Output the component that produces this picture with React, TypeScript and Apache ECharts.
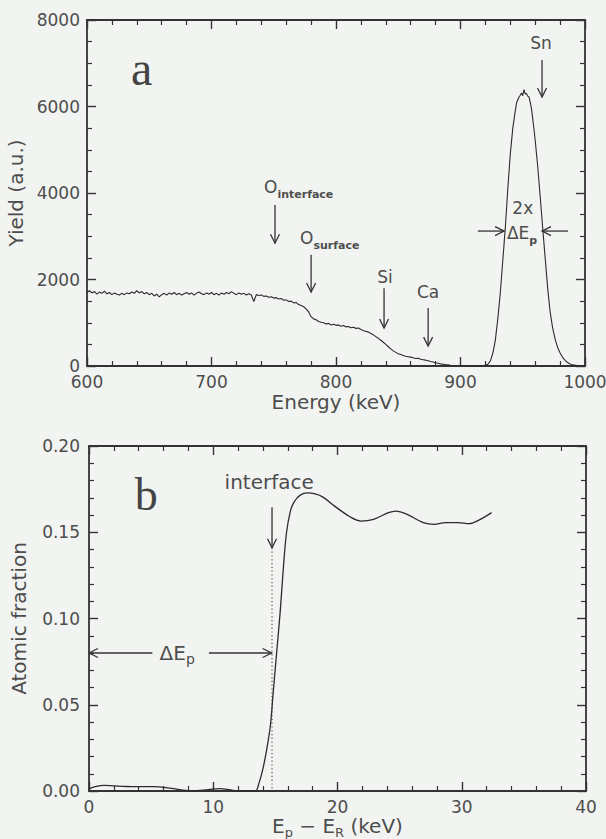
import React, { useEffect, useRef } from "react";
import * as echarts from "echarts";

// ---------- Panel a: RBS spectrum (energy keV, yield a.u.) ----------
const spectrum: [number, number][] = [
  [600, 1700], [602, 1740], [604, 1690], [606, 1720], [608, 1660], [610, 1710], [612, 1680], [614, 1730],
  [616, 1670], [618, 1700], [620, 1650], [622, 1690], [624, 1660], [626, 1640], [628, 1680], [630, 1650],
  [632, 1690], [634, 1670], [636, 1710], [638, 1680], [640, 1740], [642, 1690], [644, 1720], [646, 1670],
  [648, 1700], [650, 1650], [652, 1680], [654, 1620], [656, 1660], [658, 1600], [660, 1650], [662, 1680],
  [664, 1640], [666, 1690], [668, 1660], [670, 1700], [672, 1650], [674, 1680], [676, 1640], [678, 1670],
  [680, 1700], [682, 1660], [684, 1690], [686, 1640], [688, 1680], [690, 1710], [692, 1670], [694, 1650],
  [696, 1690], [698, 1660], [700, 1700], [702, 1650], [704, 1680], [706, 1640], [708, 1690], [710, 1660],
  [712, 1700], [714, 1670], [716, 1720], [718, 1680], [720, 1650], [722, 1690], [724, 1660], [726, 1680],
  [728, 1640], [730, 1670], [732, 1640], [734, 1490], [736, 1650], [738, 1630], [740, 1640], [742, 1610],
  [744, 1620], [746, 1590], [748, 1600], [750, 1570], [752, 1580], [754, 1550], [756, 1560], [758, 1520],
  [760, 1530], [762, 1490], [764, 1500], [766, 1460], [768, 1470], [770, 1420], [772, 1400], [774, 1370],
  [776, 1320], [778, 1250], [780, 1140], [782, 1090], [784, 1070], [786, 1030], [788, 1010], [790, 1000],
  [792, 970], [794, 985], [796, 950], [798, 965], [800, 940], [802, 950], [804, 920], [806, 935],
  [808, 905], [810, 915], [812, 885], [814, 895], [816, 870], [818, 880], [820, 845], [822, 820],
  [824, 800], [826, 785], [828, 750], [830, 720], [832, 680], [834, 640], [836, 595], [838, 550],
  [840, 500], [842, 445], [844, 395], [846, 350], [848, 315], [850, 285], [852, 265], [854, 245],
  [856, 225], [858, 215], [860, 205], [862, 190], [864, 175], [866, 180], [868, 155], [870, 145],
  [872, 135], [874, 120], [876, 105], [878, 92], [880, 75], [882, 62], [884, 50], [886, 42],
  [888, 32], [890, 26], [892, 18], [894, 12], [896, 8], [898, 6], [900, 4], [904, 3],
  [908, 2], [912, 3], [916, 6], [920, 15], [922, 40], [924, 120], [926, 300], [928, 600],
  [930, 1100], [932, 1700], [934, 2450], [936, 3200], [938, 4100], [940, 4900], [942, 5500], [944, 5900],
  [945, 6080], [946, 6150], [947, 6220], [948, 6260], [949, 6310], [950, 6250], [951, 6390], [952, 6290],
  [953, 6300], [954, 6240], [955, 6220], [956, 6100], [957, 5950], [958, 5720], [959, 5480], [960, 5220],
  [962, 4620], [964, 3920], [966, 3200], [968, 2500], [970, 1800], [972, 1250], [974, 880], [976, 620],
  [978, 430], [980, 300], [982, 200], [984, 130], [986, 80], [988, 45], [990, 25], [994, 8], [1000, 2],
];

// ---------- Panel b: depth profile (Ep - ER keV, atomic fraction) ----------
const profile: [number, number][] = [
  [0, 0.0012], [0.5, 0.0025], [1.2, 0.0033], [2, 0.003], [3, 0.0026], [4, 0.0025], [5.2, 0.0025],
  [6.2, 0.002], [7.4, 0.0007], [8.3, 0.0001], [9.6, 0.0008], [10.5, 0.0014], [11.4, 0.0006], [12, 0],
  [13, 0], [13.4, 0], [13.7, 0.005], [14.0, 0.013], [14.3, 0.024], [14.6, 0.038], [14.8, 0.055],
  [15.1, 0.08], [15.4, 0.105], [15.65, 0.13], [15.9, 0.15], [16.2, 0.162], [16.5, 0.1675], [17.0, 0.1715],
  [17.6, 0.1728], [18.2, 0.1722], [18.8, 0.1705], [19.8, 0.165], [21.0, 0.159], [21.9, 0.1565],
  [22.9, 0.1575], [24.1, 0.1614], [24.7, 0.1623], [25.6, 0.1604], [26.9, 0.1556], [27.8, 0.1546],
  [28.7, 0.1556], [29.7, 0.1556], [30.6, 0.155], [31.5, 0.1575], [32.4, 0.1614],
];

// ---------- Annotations (data coordinates: [x1, y1, x2(tip), y2(tip)]) ----------
const panelAArrows = [
  [751, 3720, 751, 2840],     // O interface
  [780, 2570, 780, 1710],     // O surface
  [838.6, 1800, 838.6, 880],  // Si
  [874, 1340, 874, 460],      // Ca
  [965.5, 7075, 965.5, 6220], // Sn
  [914, 3120, 935, 3120],     // 2x ΔEp left
  [986.4, 3120, 965.5, 3120], // 2x ΔEp right
];
const panelALabelText = ["{m|O}{s|interface}", "{m|O}{s|surface}", "{m|Si}", "{m|Ca}", "{m|Sn}", "{m|2x}", "{m|ΔE}{s|p}"];
const panelALabelPos = [[770, 4140], [795, 2960], [839.4, 2060], [874, 1710], [964.7, 7470], [950, 3650], [949.4, 3080]];

const panelBArrows = [
  [14.73, 0.1645, 14.73, 0.141], // interface
  [5.1, 0.08, 0, 0.08],          // ΔEp left
  [9.65, 0.08, 14.7, 0.08],      // ΔEp right
];
const panelBDotted = [[14.73, 0.141, 14.73, 0]];
const panelBLabelText = ["{m|interface}", "{m|ΔE}{s|p}"];
const panelBLabelPos = [[14.5, 0.179], [7.1, 0.08]];

const panelLetterA = [[644, 6870]];
const panelLetterB = [[4.6, 0.172]];

const FONT = "DejaVu Sans";
const INK = "#333333";
const TEXT = "#4d4d4d";

function makeAxis(grid: number, pos: string, min: number, max: number,
  interval: number, minor: number, labels: boolean, extra: any = {}) {
  return {
    type: "value",
    gridIndex: grid,
    position: pos,
    min, max, interval,
    axisLine: { show: true, onZero: false, lineStyle: { color: INK, width: 1.8 } },
    axisTick: { show: true, inside: true, length: 9, lineStyle: { color: INK, width: 1.4 } },
    minorTick: { show: true, splitNumber: minor, length: 5, lineStyle: { color: INK, width: 1.2 } },
    splitLine: { show: false },
    axisLabel: {
      show: labels, color: TEXT, fontSize: 17, fontFamily: FONT, margin: 7,
      formatter: (v: number) => String(v),
    },
    ...extra,
  };
}

const subRich = (main: number, sub: number, bold: boolean) => ({
  m: { fontSize: main, fontFamily: FONT, fill: TEXT, color: TEXT, lineHeight: 26 },
  s: {
    fontSize: sub, fontFamily: FONT, fill: TEXT, color: TEXT, lineHeight: 10,
    verticalAlign: "bottom", fontWeight: bold ? "bold" : "normal",
  },
});

function arrowSeries(xi: number, data: number[][]) {
  return {
    type: "custom", xAxisIndex: xi, yAxisIndex: xi, clip: false, silent: true, data,
    renderItem: (_p: any, api: any) => {
      const p1 = api.coord([api.value(0), api.value(1)]);
      const p2 = api.coord([api.value(2), api.value(3)]);
      const dx = p2[0] - p1[0], dy = p2[1] - p1[1];
      const len = Math.sqrt(dx * dx + dy * dy) || 1;
      const ux = dx / len, uy = dy / len;
      const hl = 9, hw = 4.5;
      const a = [p2[0] - ux * hl - uy * hw, p2[1] - uy * hl + ux * hw];
      const b = [p2[0] - ux * hl + uy * hw, p2[1] - uy * hl - ux * hw];
      const st = { stroke: INK, lineWidth: 1.3, fill: null };
      return {
        type: "group",
        children: [
          { type: "line", shape: { x1: p1[0], y1: p1[1], x2: p2[0], y2: p2[1] }, style: st },
          { type: "polyline", shape: { points: [a, p2, b] }, style: st },
        ],
      };
    },
  };
}

function dottedSeries(xi: number, data: number[][]) {
  return {
    type: "custom", xAxisIndex: xi, yAxisIndex: xi, clip: false, silent: true, data,
    renderItem: (_p: any, api: any) => {
      const p1 = api.coord([api.value(0), api.value(1)]);
      const p2 = api.coord([api.value(2), api.value(3)]);
      return {
        type: "line", shape: { x1: p1[0], y1: p1[1], x2: p2[0], y2: p2[1] },
        style: { stroke: "#555", lineWidth: 1.2, lineDash: [1.2, 2.6] },
      };
    },
  };
}

function textSeries(xi: number, data: number[][], texts: string[], main: number, sub: number, bold: boolean,
  family = FONT, color = TEXT) {
  return {
    type: "custom", xAxisIndex: xi, yAxisIndex: xi, clip: false, silent: true, data,
    renderItem: (p: any, api: any) => {
      const c = api.coord([api.value(0), api.value(1)]);
      const rich = subRich(main, sub, bold);
      (rich.m as any).fontFamily = family;
      (rich.m as any).fill = color;
      return {
        type: "text", x: c[0], y: c[1],
        style: {
          text: texts[p.dataIndex], align: "center", verticalAlign: "middle",
          fontSize: main, fontFamily: family, fill: color, rich,
        },
      };
    },
  };
}

const option: any = {
  animation: false,
  backgroundColor: "#f2f4f1",
  grid: [
    { left: 87, top: 20, width: 498, height: 346, outerBoundsMode: "none" },
    { left: 89, top: 446, width: 497, height: 345, outerBoundsMode: "none" },
  ],
  xAxis: [
    makeAxis(0, "bottom", 600, 1000, 100, 5, true, {
      name: "Energy (keV)", nameLocation: "middle", nameGap: 26,
      nameTextStyle: { color: TEXT, fontSize: 20, fontFamily: FONT },
    }),
    makeAxis(0, "top", 600, 1000, 100, 5, false),
    makeAxis(1, "bottom", 0, 40, 10, 5, true, {
      name: "{m|E}{s|p}{m| − E}{s|R}{m| (keV)}", nameLocation: "middle", nameGap: 20,
      nameTextStyle: { color: TEXT, fontSize: 20, fontFamily: FONT, rich: subRich(20, 13, false) },
    }),
    makeAxis(1, "top", 0, 40, 10, 5, false),
  ],
  yAxis: [
    makeAxis(0, "left", 0, 8000, 2000, 4, true, {
      name: "Yield (a.u.)", nameLocation: "middle", nameGap: 58,
      nameTextStyle: { color: TEXT, fontSize: 20, fontFamily: FONT },
    }),
    makeAxis(0, "right", 0, 8000, 2000, 4, false),
    makeAxis(1, "left", 0, 0.2, 0.05, 5, true, {
      name: "Atomic fraction", nameLocation: "middle", nameGap: 60,
      nameTextStyle: { color: TEXT, fontSize: 20, fontFamily: FONT },
      axisLabel: {
        show: true, color: TEXT, fontSize: 17, fontFamily: FONT, margin: 9,
        formatter: (v: number) => v.toFixed(2),
      },
    }),
    makeAxis(1, "right", 0, 0.2, 0.05, 5, false),
  ],
  series: [
    {
      type: "line", xAxisIndex: 0, yAxisIndex: 0, data: spectrum, showSymbol: false,
      lineStyle: { color: "#2b2b2b", width: 1.1 }, silent: true,
    },
    {
      type: "line", xAxisIndex: 2, yAxisIndex: 2, data: profile, showSymbol: false,
      smooth: 0.35, lineStyle: { color: "#2b2b2b", width: 1.3 }, silent: true,
    },
    arrowSeries(0, panelAArrows),
    arrowSeries(2, panelBArrows),
    dottedSeries(2, panelBDotted),
    textSeries(0, panelALabelPos, panelALabelText, 17, 11, true),
    textSeries(2, panelBLabelPos, panelBLabelText, 20, 14, false),
    textSeries(0, panelLetterA, ["{m|a}"], 48, 10, false, "Liberation Serif", "#444"),
    textSeries(2, panelLetterB, ["{m|b}"], 46, 10, false, "Liberation Serif", "#444"),
  ],
};

export default function App() {
  const ref = useRef<HTMLDivElement>(null);
  useEffect(() => {
    const chart = echarts.init(ref.current!, null, { renderer: "svg" });
    chart.setOption(option);
    return () => chart.dispose();
  }, []);
  return (
    <div
      ref={ref}
      style={{ position: "absolute", left: 0, top: 0, width: 606, height: 839 }}
    />
  );
}
